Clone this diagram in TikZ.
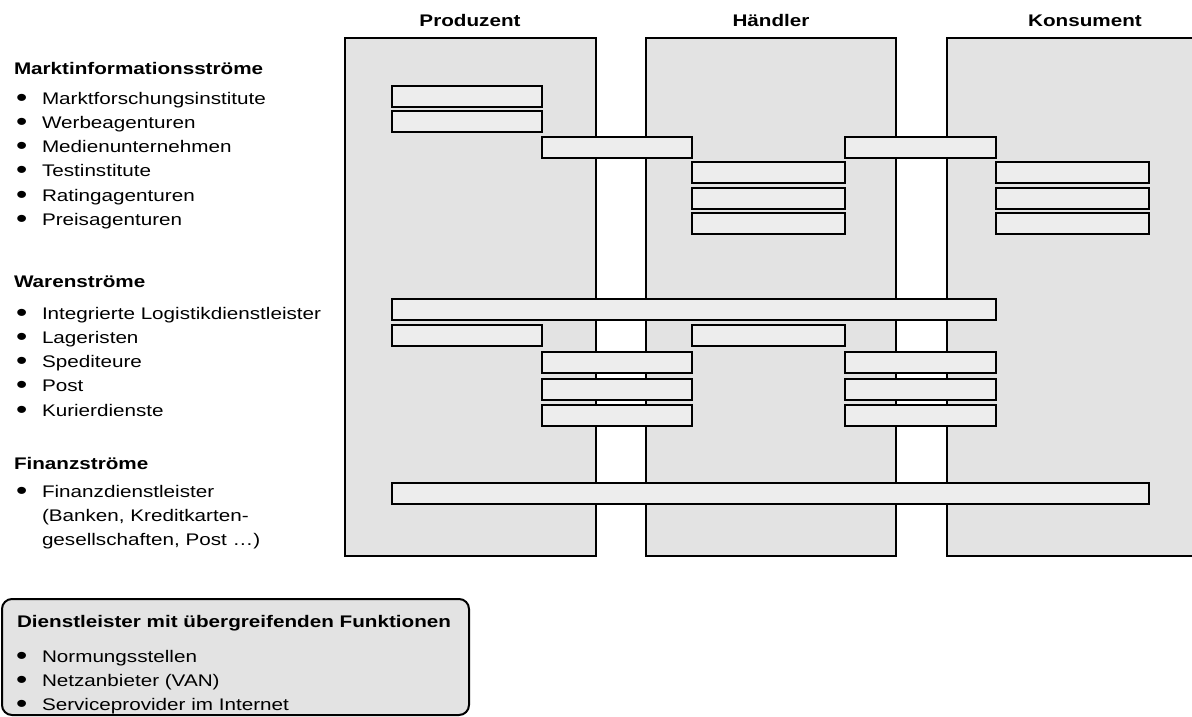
\documentclass[tikz,border=0pt]{standalone}
\usepackage{fontspec}
\setmainfont[FakeStretch=1.23]{Liberation Sans}

\definecolor{panel}{HTML}{E3E3E3}
\definecolor{barfill}{HTML}{EDEDED}
\newcommand\bul{\makebox[25pt][l]{\hspace*{-1pt}\smash{\raisebox{-2pt}{\scalebox{1.55}{\textbullet}}}}}

\begin{document}
\begin{tikzpicture}[x=1pt,y=-1pt,
  every node/.style={inner sep=0pt, outer sep=0pt},
  txt/.style={anchor=base west, font=\fontsize{16.8}{20}\selectfont},
  head/.style={anchor=base west, font=\fontsize{16.8}{20}\selectfont\bfseries},
  colbox/.style={draw, line width=2pt, fill=panel, anchor=north west, minimum height=518pt},
  flowbar/.style={draw, line width=2pt, fill=barfill, anchor=north west, minimum height=21pt},
]
\useasboundingbox (0,0) rectangle (1192,717);

% actor columns
\node[colbox, minimum width=251pt] (prod) at (345,38) {};
\node[colbox, minimum width=250pt] (hand) at (646,38) {};
\node[colbox, minimum width=276pt] (kons) at (947,38) {};

\node[head, anchor=base] (hprod) at (470,27) {Produzent};
\node[head, anchor=base] (hhand) at (771,27) {Händler};
\node[head, anchor=base] (hkons) at (1085,27) {Konsument};

% market information flows
\node[flowbar, minimum width=150pt] (m1) at (392,86) {};
\node[flowbar, minimum width=150pt] (m2) at (392,111) {};
\node[flowbar, minimum width=150pt] (m3a) at (542,137) {};
\node[flowbar, minimum width=151pt] (m3b) at (845,137) {};
\node[flowbar, minimum width=153pt] (m4a) at (692,162) {};
\node[flowbar, minimum width=153pt] (m4b) at (996,162) {};
\node[flowbar, minimum width=153pt] (m5a) at (692,188) {};
\node[flowbar, minimum width=153pt] (m5b) at (996,188) {};
\node[flowbar, minimum width=153pt] (m6a) at (692,213) {};
\node[flowbar, minimum width=153pt] (m6b) at (996,213) {};

% goods flows
\node[flowbar, minimum width=604pt] (w1) at (392,299) {};
\node[flowbar, minimum width=150pt] (w2a) at (392,325) {};
\node[flowbar, minimum width=153pt] (w2b) at (692,325) {};
\node[flowbar, minimum width=150pt] (w3a) at (542,352) {};
\node[flowbar, minimum width=151pt] (w3b) at (845,352) {};
\node[flowbar, minimum width=150pt] (w4a) at (542,379) {};
\node[flowbar, minimum width=151pt] (w4b) at (845,379) {};
\node[flowbar, minimum width=150pt] (w5a) at (542,405) {};
\node[flowbar, minimum width=151pt] (w5b) at (845,405) {};

% financial flows
\node[flowbar, minimum width=757pt] (f1) at (392,483) {};

% left-hand legend
\node[head] (hmi) at (14,75) {Marktinformationsströme};
\foreach \t [count=\i] in {Marktforschungsinstitute, Werbeagenturen, Medienunternehmen,
    Testinstitute, Ratingagenturen, Preisagenturen}
  \node[txt] (mi\i) at (17,{104+24.3*(\i-1)}) {\bul\t};

\node[head] (hwa) at (14,287) {Warenströme};
\foreach \t [count=\i] in {Integrierte Logistikdienstleister, Lageristen, Spediteure,
    Post, Kurierdienste}
  \node[txt] (wa\i) at (17,{319+24.3*(\i-1)}) {\bul\t};

\node[head] (hfi) at (14,469) {Finanzströme};
\node[txt] (fi1) at (17,497) {\bul Finanzdienstleister};
\node[txt] (fi2) at (42,521.3) {(Banken, Kreditkarten-};
\node[txt] (fi3) at (42,545.6) {gesellschaften, Post …)};

% cross-cutting service providers
\node[draw, line width=2pt, fill=panel, rounded corners=10pt, anchor=north west,
      minimum width=467pt, minimum height=116pt] (dl) at (2,599) {};
\node[head] (hdl) at (17,627) {Dienstleister mit übergreifenden Funktionen};
\foreach \t [count=\i] in {Normungsstellen, Netzanbieter (VAN), Serviceprovider im Internet}
  \node[txt] (dl\i) at (17,{662+24*(\i-1)}) {\bul\t};
\end{tikzpicture}
\end{document}
